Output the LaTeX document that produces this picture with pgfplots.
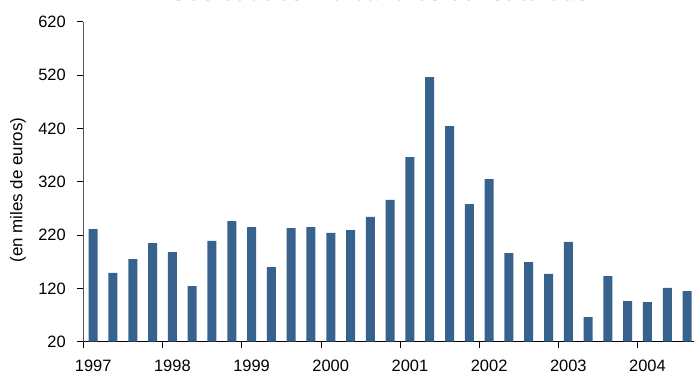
\documentclass[border=0pt]{standalone}
\usepackage{fontspec}
\setmainfont{Liberation Sans}
\usepackage{pgfplots}
\pgfplotsset{compat=1.18}
\definecolor{barblue}{HTML}{37628E}
\definecolor{axisgray}{HTML}{555555}

\begin{document}
\begin{tikzpicture}
\begin{axis}[
  at={(83.3bp,32.3bp)}, anchor=south west,
  scale only axis, width=610.7bp, height=320bp,
  xmin=0, xmax=30.85, ymin=20, ymax=620,
  axis x line=bottom, axis y line=left,
  axis line style={-},
  x axis line style={black, line width=0.9pt},
  y axis line style={axisgray, line width=0.9pt},
  tick align=outside, major tick length=6bp,
  every tick/.style={black, line width=0.7pt},
  ytick={20,120,...,620},
  xtick={0,4,...,28},
  xticklabels={1997,1998,1999,2000,2001,2002,2003,2004},
  xticklabel style={xshift=9.9bp, yshift=-9bp},
  yticklabel style={xshift=-8bp},
  tick label style={font=\fontsize{16.5}{19}\selectfont, text=black},
  /pgf/number format/assume math mode=true,
  title={Sociedades Mercantiles constituidas},
  title style={at={(axis description cs:0.4858,1.049)}, anchor=base,
    font=\bfseries\fontsize{24}{28}\selectfont, text=barblue},
  ylabel={(en miles de euros)},
  ylabel style={at={(axis description cs:-0.1069,0.474)}, anchor=center,
    font=\fontsize{17}{20}\selectfont},
]
\addplot[ybar, bar width=9bp, fill=barblue, draw=none] coordinates {
  (0.5,231) (1.5,149) (2.5,175) (3.5,205)
  (4.5,188) (5.5,124) (6.5,209) (7.5,246)
  (8.5,235) (9.5,160) (10.5,233) (11.5,235)
  (12.5,224) (13.5,229) (14.5,254) (15.5,286)
  (16.5,366) (17.5,516) (18.5,424) (19.5,278)
  (20.5,325) (21.5,186) (22.5,169) (23.5,147)
  (24.5,207) (25.5,66) (26.5,143) (27.5,96)
  (28.5,94) (29.5,121) (30.5,115)
};
\end{axis}
\pgfresetboundingbox
\path (0,0) rectangle (694bp,374bp);
\end{tikzpicture}
\end{document}
